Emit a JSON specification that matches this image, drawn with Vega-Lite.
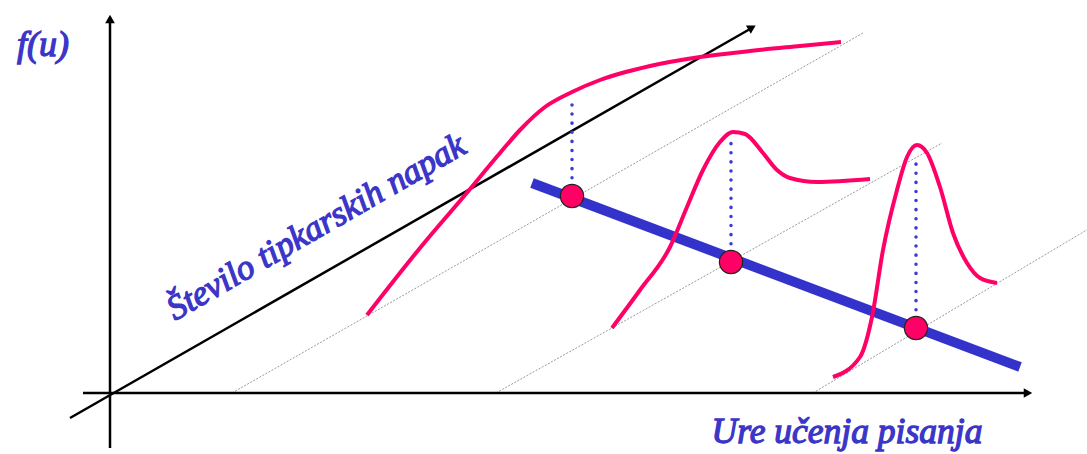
{
  "$schema": "https://vega.github.io/schema/vega-lite/v6.json",
  "width": 1087,
  "height": 454,
  "padding": 0,
  "autosize": {"type": "fit", "contains": "padding"},
  "background": "white",
  "config": {"view": {"stroke": null}},
  "datasets": {
    "pts": [
      {"g": "vaxis", "k": "axis", "x": 0, "y": -55, "o": 1},
      {"g": "vaxis", "k": "axis", "x": 0, "y": 372, "o": 2},
      {"g": "haxis", "k": "axis", "x": -27, "y": 0, "o": 1},
      {"g": "haxis", "k": "axis", "x": 916, "y": 0, "o": 2},
      {"g": "diag", "k": "axis", "x": -40, "y": -25, "o": 1},
      {"g": "diag", "k": "axis", "x": 640, "y": 364, "o": 2},
      {"g": "g1", "k": "guide", "x": 122, "y": 0, "o": 1},
      {"g": "g1", "k": "guide", "x": 753, "y": 360, "o": 2},
      {"g": "g2", "k": "guide", "x": 386, "y": 0, "o": 1},
      {"g": "g2", "k": "guide", "x": 832, "y": 250, "o": 2},
      {"g": "g3", "k": "guide", "x": 703, "y": 0, "o": 1},
      {"g": "g3", "k": "guide", "x": 980, "y": 165, "o": 2},
      {"g": "trend", "k": "trend", "x": 422, "y": 210, "o": 1},
      {"g": "trend", "k": "trend", "x": 910, "y": 26, "o": 2},
      {"g": "c1", "k": "curve", "x": 257, "y": 78, "o": 1},
      {"g": "c1", "k": "curve", "x": 310, "y": 145, "o": 2},
      {"g": "c1", "k": "curve", "x": 355, "y": 198, "o": 3},
      {"g": "c1", "k": "curve", "x": 390, "y": 240, "o": 4},
      {"g": "c1", "k": "curve", "x": 410, "y": 263, "o": 5},
      {"g": "c1", "k": "curve", "x": 435, "y": 286, "o": 6},
      {"g": "c1", "k": "curve", "x": 462, "y": 301, "o": 7},
      {"g": "c1", "k": "curve", "x": 490, "y": 313, "o": 8},
      {"g": "c1", "k": "curve", "x": 540, "y": 327, "o": 9},
      {"g": "c1", "k": "curve", "x": 590, "y": 336, "o": 10},
      {"g": "c1", "k": "curve", "x": 640, "y": 342, "o": 11},
      {"g": "c1", "k": "curve", "x": 690, "y": 347, "o": 12},
      {"g": "c1", "k": "curve", "x": 731, "y": 351, "o": 13},
      {"g": "c2", "k": "curve", "x": 502, "y": 65, "o": 1},
      {"g": "c2", "k": "curve", "x": 530, "y": 103, "o": 2},
      {"g": "c2", "k": "curve", "x": 560, "y": 146, "o": 3},
      {"g": "c2", "k": "curve", "x": 577, "y": 186, "o": 4},
      {"g": "c2", "k": "curve", "x": 593, "y": 223, "o": 5},
      {"g": "c2", "k": "curve", "x": 610, "y": 251, "o": 6},
      {"g": "c2", "k": "curve", "x": 623, "y": 261, "o": 7},
      {"g": "c2", "k": "curve", "x": 635, "y": 259, "o": 8},
      {"g": "c2", "k": "curve", "x": 653, "y": 240, "o": 9},
      {"g": "c2", "k": "curve", "x": 667, "y": 223, "o": 10},
      {"g": "c2", "k": "curve", "x": 680, "y": 215, "o": 11},
      {"g": "c2", "k": "curve", "x": 707, "y": 211, "o": 12},
      {"g": "c2", "k": "curve", "x": 760, "y": 214, "o": 13},
      {"g": "c3", "k": "curve", "x": 723, "y": 16, "o": 1},
      {"g": "c3", "k": "curve", "x": 750, "y": 36, "o": 2},
      {"g": "c3", "k": "curve", "x": 762, "y": 76, "o": 3},
      {"g": "c3", "k": "curve", "x": 773, "y": 143, "o": 4},
      {"g": "c3", "k": "curve", "x": 787, "y": 203, "o": 5},
      {"g": "c3", "k": "curve", "x": 797, "y": 236, "o": 6},
      {"g": "c3", "k": "curve", "x": 807, "y": 248, "o": 7},
      {"g": "c3", "k": "curve", "x": 817, "y": 240, "o": 8},
      {"g": "c3", "k": "curve", "x": 830, "y": 206, "o": 9},
      {"g": "c3", "k": "curve", "x": 843, "y": 160, "o": 10},
      {"g": "c3", "k": "curve", "x": 857, "y": 130, "o": 11},
      {"g": "c3", "k": "curve", "x": 870, "y": 115, "o": 12},
      {"g": "c3", "k": "curve", "x": 887, "y": 110, "o": 13},
      {"g": "d1", "k": "drop", "x": 462, "y": 197, "o": 1},
      {"g": "d1", "k": "drop", "x": 462, "y": 292, "o": 2},
      {"g": "d2", "k": "drop", "x": 621, "y": 131, "o": 1},
      {"g": "d2", "k": "drop", "x": 621, "y": 258, "o": 2},
      {"g": "d3", "k": "drop", "x": 806, "y": 65, "o": 1},
      {"g": "d3", "k": "drop", "x": 806, "y": 235, "o": 2},
      {"g": "p1", "k": "dot", "x": 462, "y": 197, "o": 1},
      {"g": "p2", "k": "dot", "x": 621, "y": 131, "o": 1},
      {"g": "p3", "k": "dot", "x": 806, "y": 65, "o": 1},
      {"g": "av", "k": "arrow", "x": 0, "y": 374, "o": 1},
      {"g": "ah", "k": "arrow", "x": 918, "y": 0, "o": 1},
      {"g": "ad", "k": "arrow", "x": 642, "y": 365.5, "o": 1}
    ],
    "labels": [
      {"id": "fu", "text": "f(u)", "x": -67, "y": 337},
      {"id": "xl", "text": "Ure učenja pisanja", "x": 737, "y": -50},
      {"id": "yl", "text": "Število tipkarskih napak", "x": 206, "y": 166}
    ]
  },
  "encoding": {
    "x": {"field": "x", "type": "quantitative", "scale": {"domain": [-110, 977], "nice": false, "zero": false}, "axis": null},
    "y": {"field": "y", "type": "quantitative", "scale": {"domain": [-61, 393], "nice": false, "zero": false}, "axis": null}
  },
  "layer": [
    {
      "data": {"name": "pts"},
      "transform": [{"filter": "datum.k == 'guide'"}],
      "mark": {"type": "line", "color": "#9a9a9a", "strokeWidth": 1, "strokeDash": [2, 1.5], "clip": true},
      "encoding": {"detail": {"field": "g"}, "order": {"field": "o"}}
    },
    {
      "data": {"name": "pts"},
      "transform": [{"filter": "datum.k == 'axis'"}],
      "mark": {"type": "line", "color": "#000000", "strokeWidth": 2.5},
      "encoding": {"detail": {"field": "g"}, "order": {"field": "o"}}
    },
    {
      "data": {"name": "pts"},
      "transform": [{"filter": "datum.k == 'trend'"}],
      "mark": {"type": "line", "color": "#3333cc", "strokeWidth": 10},
      "encoding": {"detail": {"field": "g"}, "order": {"field": "o"}}
    },
    {
      "data": {"name": "pts"},
      "transform": [{"filter": "datum.k == 'curve'"}],
      "mark": {"type": "line", "color": "#ff0066", "strokeWidth": 4, "interpolate": "monotone"},
      "encoding": {"detail": {"field": "g"}, "order": {"field": "o"}}
    },
    {
      "data": {"name": "pts"},
      "transform": [{"filter": "datum.k == 'drop'"}],
      "mark": {"type": "line", "color": "#3a3ad8", "strokeWidth": 3.5, "strokeDash": [0.1, 9], "strokeCap": "round"},
      "encoding": {"detail": {"field": "g"}, "order": {"field": "o"}}
    },
    {
      "data": {"name": "pts"},
      "transform": [{"filter": "datum.k == 'dot'"}],
      "mark": {"type": "point", "filled": true, "fill": "#ff0066", "stroke": "#222222", "strokeWidth": 1.2, "size": 540, "opacity": 1}
    },
    {
      "data": {"name": "pts"},
      "transform": [{"filter": "datum.g == 'av'"}],
      "mark": {"type": "point", "shape": "triangle-up", "filled": true, "color": "#000000", "size": 95, "angle": 0, "opacity": 1}
    },
    {
      "data": {"name": "pts"},
      "transform": [{"filter": "datum.g == 'ah'"}],
      "mark": {"type": "point", "shape": "triangle-up", "filled": true, "color": "#000000", "size": 95, "angle": 90, "opacity": 1}
    },
    {
      "data": {"name": "pts"},
      "transform": [{"filter": "datum.g == 'ad'"}],
      "mark": {"type": "point", "shape": "triangle-up", "filled": true, "color": "#000000", "size": 95, "angle": 60, "opacity": 1}
    },
    {
      "data": {"name": "labels"},
      "transform": [{"filter": "datum.id == 'fu'"}],
      "mark": {"type": "text", "font": "Liberation Serif", "fontStyle": "italic", "fontSize": 36, "color": "#3b35c8", "stroke": "#3b35c8", "strokeWidth": 1.3, "align": "center", "baseline": "alphabetic"},
      "encoding": {"text": {"field": "text"}}
    },
    {
      "data": {"name": "labels"},
      "transform": [{"filter": "datum.id == 'xl'"}],
      "mark": {"type": "text", "font": "Liberation Serif", "fontStyle": "italic", "fontSize": 35.5, "color": "#3b35c8", "stroke": "#3b35c8", "strokeWidth": 1.3, "align": "center", "baseline": "alphabetic"},
      "encoding": {"text": {"field": "text"}}
    },
    {
      "data": {"name": "labels"},
      "transform": [{"filter": "datum.id == 'yl'"}],
      "mark": {"type": "text", "font": "Liberation Serif", "fontStyle": "italic", "fontSize": 35, "color": "#3b35c8", "stroke": "#3b35c8", "strokeWidth": 1.3, "align": "center", "baseline": "middle", "angle": -30},
      "encoding": {"text": {"field": "text"}}
    }
  ]
}
